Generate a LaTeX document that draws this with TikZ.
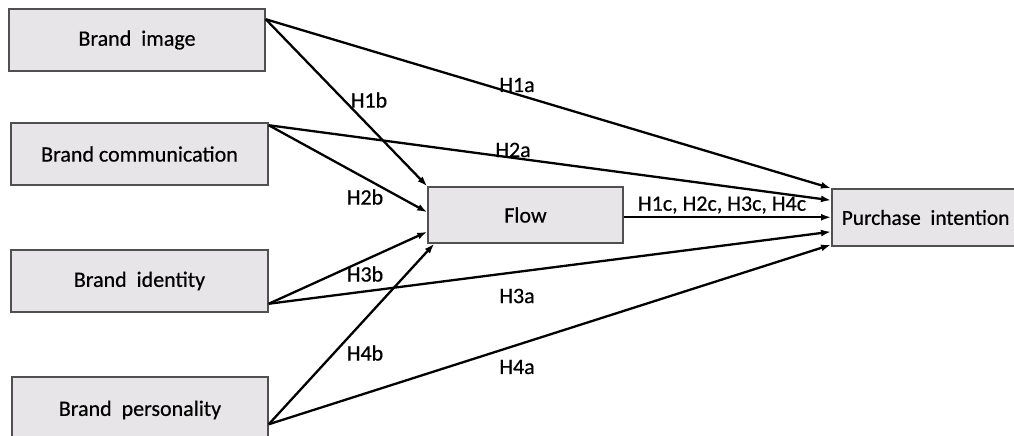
\documentclass[tikz,border=0pt]{standalone}
\usepackage{fontspec}
\setmainfont{Carlito}[FakeBold=0.5]
\usetikzlibrary{arrows.meta}
\definecolor{boxfill}{HTML}{E7E5E7}
\definecolor{boxline}{HTML}{505050}
\tikzset{
  box/.style={draw=boxline, line width=1.5pt, fill=boxfill, inner sep=0pt,
    font=\fontsize{22}{26}\selectfont},
  lab/.style={inner sep=0pt, font=\fontsize{22}{26}\selectfont},
  conn/.style={line width=2.3pt, -{Latex[length=10pt,width=7pt]}}
}
\begin{document}
\begin{tikzpicture}[x=1pt,y=-1pt]
\useasboundingbox (0,0) rectangle (1014,436);
\clip (0,0) rectangle (1014,436);
% boxes
\node[box, minimum width=256pt, minimum height=62pt] (bi) at (137,40) {Brand\ \ image};
\node[box, minimum width=257pt, minimum height=62pt] (bc) at (139.5,154) {Brand communication};
\node[box, minimum width=257pt, minimum height=62pt] (bid) at (139.5,281) {Brand\ \ identity};
\node[box, minimum width=256pt, minimum height=66pt] (bp) at (140,410) {Brand\ \ personality};
\node[box, minimum width=195pt, minimum height=56pt] (fl) at (525.5,215) {Flow};
\node[box, anchor=west, minimum height=57pt, inner xsep=10pt,
  font=\fontsize{21.4}{26}\selectfont] (pi) at (831,217.5) {\makebox[189pt][l]{Purchase\ \ intention}};
% connector end points
\coordinate (sbi) at ([yshift=-11pt]bi.north east);
\coordinate (sbc) at ([yshift=-3pt]bc.north east);
\coordinate (sbid) at ([yshift=9pt]bid.south east);
\coordinate (sbp) at ([yshift=-48pt]bp.north east);
\coordinate (fin2) at ([yshift=-26pt]fl.north west);
\coordinate (fin3) at ([yshift=12pt]fl.south west);
\coordinate (fin4) at ([xshift=7pt]fl.south west);
\coordinate (pin2) at ([yshift=-12pt]pi.north west);
\coordinate (pin1) at ([yshift=-29pt]pi.north west);
\coordinate (pin3) at ([yshift=15pt]pi.south west);
\coordinate (pin4) at ([yshift=2pt]pi.south west);
% connectors to purchase intention
\draw[conn] (sbi) -- (pi.north west);
\draw[conn] (sbc) -- (pin2);
\draw[conn] (fl.east |- pin1) -- (pin1);
\draw[conn] (sbid) -- (pin3);
\draw[conn] (sbp) -- (pin4);
% connectors to flow
\draw[conn] (sbi) -- (fl.north west);
\draw[conn] (sbc) -- (fin2);
\draw[conn] (sbid) -- (fin3);
\draw[conn] (sbp) -- (fin4);
% labels
\node[lab] (l1a) at (517,85) {H1a};
\node[lab] (l2a) at (513,150) {H2a};
\node[lab] (l1b) at (369,100) {H1b};
\node[lab] (l2b) at (365,197) {H2b};
\node[lab] (l3b) at (365,274) {H3b};
\node[lab] (l4b) at (365,353) {H4b};
\node[lab] (l3a) at (517,296) {H3a};
\node[lab] (l4a) at (517,367) {H4a};
\node[lab] (lc) at (722,205) {H1c, H2c, H3c, H4c};
\end{tikzpicture}
\end{document}
